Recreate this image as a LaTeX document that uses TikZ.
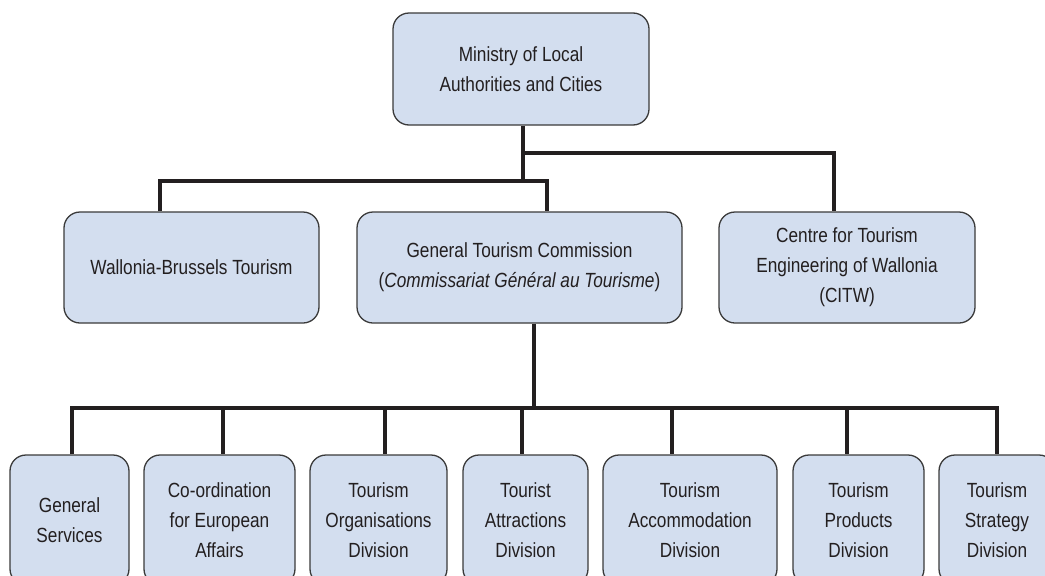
\documentclass[tikz,border=0pt]{standalone}
\usepackage{fontspec}
\setmainfont{Liberation Sans}[FakeStretch=0.84]
\definecolor{boxfill}{HTML}{D3DEEF}
\definecolor{ink}{HTML}{231F20}
\definecolor{edge}{HTML}{3A3A3A}
\begin{document}
\begin{tikzpicture}[x=1pt,y=-1pt,
  box/.style={draw=edge, line width=1.3pt, fill=boxfill, rounded corners=16pt,
    align=center, text=ink, inner sep=0pt, font=\fontsize{20.5}{30}\selectfont},
  link/.style={draw=ink, line width=4.5pt}]
\useasboundingbox (0,0) rectangle (1045,576);
\clip (0,0) rectangle (1045,576);

% nodes
\node[box, minimum width=256pt, minimum height=112pt] (top) at (521,69) {Ministry of Local\\Authorities and Cities};
\node[box, minimum width=255pt, minimum height=111pt] (wbt) at (191.5,267.5) {Wallonia-Brussels Tourism};
\node[box, minimum width=325pt, minimum height=111pt] (cgt) at (519.5,267.5) {General Tourism Commission\\(\textit{Commissariat Général au Tourisme})};
\node[box, minimum width=256pt, minimum height=111pt] (citw) at (847,267.5) {Centre for Tourism\\Engineering of Wallonia\\(CITW)};

\node[box, minimum width=119pt, minimum height=130pt] (b1) at (69.5,520) {General\\Services};
\node[box, minimum width=151pt, minimum height=130pt] (b2) at (219.5,520) {Co-ordination\\for European\\Affairs};
\node[box, minimum width=137pt, minimum height=130pt] (b3) at (378.5,520) {Tourism\\Organisations\\Division};
\node[box, minimum width=125pt, minimum height=130pt] (b4) at (525.5,520) {Tourist\\Attractions\\Division};
\node[box, minimum width=174pt, minimum height=130pt] (b5) at (690,520) {Tourism\\Accommodation\\Division};
\node[box, minimum width=131pt, minimum height=130pt] (b6) at (858.5,520) {Tourism\\Products\\Division};
\node[box, minimum width=116pt, minimum height=130pt] (b7) at (997,520) {Tourism\\Strategy\\Division};

% junction coordinates
\coordinate (j0) at (523,181);
\coordinate (j1) at (523,153);
\coordinate (jl) at (160,181);
\coordinate (jm) at (547,181);
\coordinate (jr) at (834,153);
\coordinate (k0) at (534,408);
\coordinate (s1) at (72,408);
\coordinate (s2) at (223,408);
\coordinate (s3) at (385,408);
\coordinate (s4) at (522,408);
\coordinate (s5) at (672,408);
\coordinate (s6) at (847,408);
\coordinate (s7) at (997,408);

% connectors
\draw[link] (top.south -| j0) -- (j0);
\draw[link] (j1) -- (jr) -- (jr |- citw.north);
\draw[link] (wbt.north -| jl) -- (jl) -- (jm) -- (cgt.north -| jm);
\draw[link] (cgt.south -| k0) -- (k0);
\draw[link] (b1.north -| s1) -- (s1) -- (s7) -- (b7.north -| s7);
\draw[link] (s2) -- (b2.north -| s2);
\draw[link] (s3) -- (b3.north -| s3);
\draw[link] (s4) -- (b4.north -| s4);
\draw[link] (s5) -- (b5.north -| s5);
\draw[link] (s6) -- (b6.north -| s6);
\end{tikzpicture}
\end{document}
